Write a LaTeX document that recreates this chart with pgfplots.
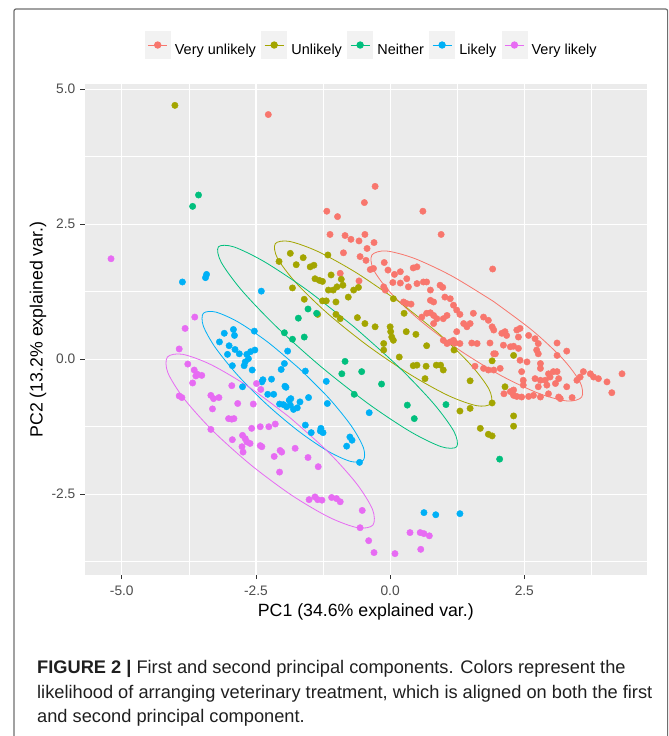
\documentclass[border=0pt]{standalone}
\usepackage{pgfplots}
\pgfplotsset{compat=1.18}
\usepackage{fontspec}
\setmainfont{Liberation Sans}

\definecolor{vunl}{HTML}{F8766D}
\definecolor{unl}{HTML}{A3A500}
\definecolor{neit}{HTML}{00BF7D}
\definecolor{lik}{HTML}{00B0F6}
\definecolor{vlik}{HTML}{E76BF3}
\definecolor{panelbg}{HTML}{EBEBEB}
\definecolor{keybg}{HTML}{F2F2F2}
\definecolor{tickgray}{HTML}{4D4D4D}
\definecolor{framegray}{HTML}{6E6E6E}

\begin{document}
\begin{tikzpicture}
\useasboundingbox (0,0) rectangle (669bp,-736bp);
\draw[framegray, line width=1.2bp, rounded corners=2bp]
  (14bp,-745bp) -- (14bp,-9bp) -- (667.6bp,-9bp) -- (667.6bp,-745bp);

\begin{axis}[
    at={(85bp,-574.7bp)}, anchor=south west,
    width=561.7bp, height=490.4bp, scale only axis,
    xmin=-5.685, xmax=4.78, ymin=-3.99, ymax=5.09,
    axis background/.style={fill=panelbg},
    axis line style={draw=none},
    xtick={-5,-2.5,0,2.5}, xticklabels={-5.0,-2.5,0.0,2.5},
    ytick={-2.5,0,2.5,5}, yticklabels={-2.5,0.0,2.5,5.0},
    minor xtick={-3.75,-1.25,1.25,3.75},
    minor ytick={-3.75,-1.25,1.25,3.75},
    grid=both,
    major grid style={white, line width=1.1bp},
    minor grid style={white, line width=0.55bp},
    tick align=outside, tick pos=left,
    major tick length=4.5bp, minor tick length=0pt,
    tick style={color=black!80, line width=0.8bp},
    xticklabel style={font=\fontsize{13.8}{15}\selectfont, text=tickgray, inner sep=0pt, anchor=base, yshift=-16.3bp},
    yticklabel style={font=\fontsize{13.8}{15}\selectfont, text=tickgray, inner sep=0pt, anchor=east, xshift=-5bp},
    xlabel={PC1 (34.6\% explained var.)},
    ylabel={PC2 (13.2\% explained var.)},
    xlabel style={font=\fontsize{17.8}{20}\selectfont, at={(rel axis cs:0.5,0)}, anchor=center, yshift=-37.5bp},
    ylabel style={font=\fontsize{17.8}{20}\selectfont, at={(rel axis cs:0,0.5)}, anchor=center, yshift=47bp},
    legend columns=5,
    legend cell align=left,
    legend style={at={(rel axis cs:0.1068,1.0801)}, anchor=west, draw=none, fill=none,
      inner sep=0pt, outer sep=0pt,
      font=\fontsize{14.5}{16}\selectfont,
      nodes={inner sep=0pt},
      /tikz/every odd column/.append style={column sep=4.5bp},
      /tikz/every even column/.append style={column sep=5.5bp}},
    legend image code/.code={
      \fill[keybg] (0bp,-8.3bp) rectangle (25bp,18.7bp);
      \draw[#1, sharp plot, line width=0.9bp, mark repeat=2, mark phase=2]
        plot coordinates {(3bp,5.2bp) (12.5bp,5.2bp) (22bp,5.2bp)};
    },
]

% --- Very unlikely ---
\addplot[only marks, mark=*, mark size=3.2bp, color=vunl] coordinates {
(-2.27,4.53) (-1.18,2.74) (-1.12,2.31) (-0.28,3.20) (-0.48,2.90) (-0.98,2.64)
(0.61,2.74) (0.95,2.31) (-0.84,2.29) (-0.73,2.22) (-0.58,2.19) (-0.47,2.31)
(-0.30,2.16) (-0.43,2.05) (-0.87,1.97) (-0.56,1.90) (-0.45,1.83) (1.91,1.67)
(-0.37,1.66) (-0.31,1.68) (-0.93,1.59) (-0.58,1.45) (-0.11,1.79) (-0.04,1.65)
(0.08,1.57) (0.19,1.62) (0.43,1.69) (0.50,1.71) (0.31,1.49) (0.34,1.34)
(0.05,1.42) (0.19,1.41) (0.50,1.40) (0.62,1.43) (0.68,1.43) (-0.12,1.34)
(-0.09,1.28) (0.93,1.37) (0.98,1.33) (0.75,1.28) (1.02,1.15) (1.12,1.12)
(0.25,1.06) (0.31,1.03) (0.39,1.02) (0.75,1.09) (0.81,1.06) (1.18,1.00)
(1.24,0.91) (1.30,0.83) (0.59,0.78) (0.68,0.85) (0.75,0.86) (0.81,0.81)
(0.87,0.75) (0.99,0.75) (1.06,0.81) (0.81,0.66) (1.55,0.85) (1.74,0.78)
(1.83,0.72) (1.90,0.60) (1.93,0.54) (1.37,0.66) (1.43,0.60) (1.49,0.66)
(1.24,0.51) (1.18,0.35) (0.99,0.35) (1.06,0.29) (1.12,0.32) (1.21,0.30)
(1.30,0.29) (1.52,0.30) (1.62,0.29) (1.86,0.30) (2.08,0.48) (2.14,0.51)
(2.17,0.44) (2.36,0.54) (2.42,0.57) (2.39,0.41) (2.11,0.26) (2.24,0.23)
(2.30,0.24) (2.39,0.20) (2.58,0.44) (2.70,0.38) (2.76,0.29) (2.73,0.17)
(2.76,0.10) (3.11,0.30) (3.29,0.15) (3.11,0.07) (1.93,0.10) (1.96,0.10)
(1.58,-0.13) (1.74,-0.17) (1.83,-0.20) (1.93,-0.20) (2.05,-0.17) (2.42,-0.02)
(2.55,-0.05) (2.45,-0.23) (2.48,-0.39) (2.80,-0.08) (2.80,-0.17) (2.70,-0.36)
(2.80,-0.39) (2.89,-0.39) (2.95,-0.27) (3.04,-0.23) (3.11,-0.23) (2.98,-0.33)
(3.08,-0.45) (3.14,-0.36) (2.76,-0.51) (2.92,-0.48) (3.29,-0.51) (3.48,-0.39)
(3.54,-0.33) (3.60,-0.23) (3.73,-0.27) (3.79,-0.33) (3.88,-0.36) (4.04,-0.42)
(4.32,-0.27) (4.13,-0.62) (3.39,-0.71) (3.14,-0.70) (3.17,-0.73) (2.12,-0.64)
(2.24,-0.60) (2.30,-0.67) (2.36,-0.69) (2.45,-0.70) (2.58,-0.69) (2.67,-0.67)
(2.80,-0.70) (2.95,-0.64) (2.30,-0.57) (2.48,-0.48)
};
\addlegendentry{Very unlikely}

% --- Unlikely ---
\addplot[only marks, mark=*, mark size=3.2bp, color=unl] coordinates {
(-4.01,4.70) (-1.86,1.96) (-2.07,1.81) (-1.75,1.75) (-1.82,1.32) (-1.62,1.88)
(-1.49,1.71) (-1.42,1.74) (-1.16,1.93) (-1.40,1.49) (-1.32,1.46) (-1.26,1.44)
(-1.10,1.56) (-0.91,1.48) (-0.88,1.37) (-0.99,1.34) (-1.06,1.28) (-1.15,1.28)
(-0.78,1.15) (-0.68,1.28) (-0.59,1.33) (-1.60,1.11) (-1.26,1.08) (-1.19,1.08)
(-1.01,1.06) (-1.35,0.83) (-1.01,0.83) (-0.93,0.75) (-0.61,0.77) (-0.47,0.66)
(-0.28,0.60) (0.00,0.60) (0.01,0.51) (0.03,0.41) (0.06,0.35) (-0.12,0.29)
(-0.12,0.17) (0.30,0.51) (0.48,0.46) (0.06,1.12) (0.26,0.85) (0.68,0.25)
(0.17,0.04) (0.43,-0.12) (0.50,-0.11) (0.67,-0.13) (0.86,-0.11) (0.94,-0.11)
(0.99,-0.20) (0.65,-0.36) (1.19,0.17) (1.90,-0.03) (2.30,0.07) (1.49,-0.40)
(1.90,-0.81) (1.49,-0.91) (1.30,-0.96) (2.14,-0.51) (2.30,-1.05) (2.30,-1.24)
(1.68,-1.28) (1.83,-1.39) (1.90,-1.42)
};
\addlegendentry{Unlikely}

% --- Neither ---
\addplot[only marks, mark=*, mark size=3.2bp, color=neit] coordinates {
(-3.57,3.04) (-3.68,2.83) (-1.53,0.93) (-1.71,0.76) (-1.97,0.49) (-1.82,0.37)
(-1.60,0.41) (-1.37,0.85) (-0.84,-0.04) (-0.90,-0.27) (-0.67,-0.65) (-0.53,-0.23)
(-0.16,-0.46) (0.32,-0.85) (0.45,-1.10) (1.04,-0.84) (2.04,-1.85)
};
\addlegendentry{Neither}

% --- Likely ---
\addplot[only marks, mark=*, mark size=3.2bp, color=lik] coordinates {
(-3.87,1.43) (-3.42,1.57) (-3.44,1.51) (-2.40,1.26) (-3.09,0.48) (-2.92,0.55)
(-2.90,0.44) (-2.53,0.52) (-3.18,0.32) (-3.00,0.25) (-2.89,0.18) (-2.81,0.10)
(-3.03,0.09) (-2.67,0.09) (-2.60,0.14) (-2.52,0.17) (-2.64,0.01) (-2.70,-0.05)
(-2.72,-0.12) (-2.57,-0.20) (-2.94,-0.12) (-2.39,-0.42) (-2.37,-0.38) (-2.21,-0.37)
(-2.03,-0.19) (-1.97,-0.08) (-1.91,0.15) (-2.75,-0.51) (-2.28,-0.65) (-2.17,-0.65)
(-1.94,-0.52) (-2.06,-0.83) (-1.99,-0.84) (-1.93,-0.88) (-1.86,-0.85) (-1.80,-0.93)
(-1.73,-0.90) (-1.88,-0.76) (-1.85,-0.73) (-1.68,-0.79) (-1.58,-0.22) (-1.52,-0.71)
(-1.19,-0.41) (-1.17,-0.82) (-1.58,-1.22) (-1.47,-1.36) (-1.30,-1.33) (-1.25,-1.36)
(-0.75,-1.44) (-0.71,-1.50) (-0.81,-1.61) (-0.57,-1.91) (-0.39,-0.99) (-1.29,-1.28)
(-1.96,-0.50) (0.63,-2.84) (0.85,-2.88) (1.30,-2.86)
};
\addlegendentry{Likely}

% --- Very likely ---
\addplot[only marks, mark=*, mark size=3.2bp, color=vlik] coordinates {
(-5.20,1.86) (-3.64,0.78) (-3.82,0.57) (-3.93,0.19) (-3.77,-0.09) (-3.65,-0.20)
(-3.59,-0.28) (-3.51,-0.30) (-3.62,-0.31) (-3.68,-0.44) (-3.93,-0.68) (-3.88,-0.71)
(-3.34,-0.67) (-3.29,-0.73) (-3.19,-0.71) (-3.31,-0.92) (-2.95,-0.49) (-2.84,-0.82)
(-2.55,-0.83) (-3.01,-1.10) (-2.95,-1.11) (-2.91,-1.10) (-3.34,-1.30) (-2.94,-1.49)
(-2.75,-1.41) (-2.70,-1.47) (-2.67,-1.53) (-2.61,-1.56) (-2.76,-1.62) (-2.74,-1.72)
(-2.58,-1.28) (-2.42,-1.25) (-2.39,-1.62) (-2.42,-1.60) (-2.26,-1.25) (-2.14,-1.20)
(-2.49,-0.45) (-2.41,-0.56) (-2.16,-1.80) (-2.05,-1.69) (-2.02,-1.72) (-2.06,-2.09)
(-1.77,-1.65) (-1.53,-1.82) (-1.34,-1.99) (-1.51,-2.60) (-1.40,-2.55) (-1.35,-2.60)
(-1.27,-2.61) (-1.09,-2.56) (-1.00,-2.58) (-0.93,-2.64) (-0.52,-2.80) (-0.56,-3.12)
(-0.40,-3.36) (-0.30,-3.58) (0.09,-3.60) (0.37,-3.21) (0.56,-3.21) (0.63,-3.23)
(0.73,-3.27) (0.57,-3.52)
};
\addlegendentry{Very likely}

% --- 68% ellipses ---
\addplot[vunl, line width=0.8bp, smooth, forget plot] coordinates {
(1.922,1.072) (1.151,1.540) (0.450,1.867) (-0.074,2.004) (-0.340,1.929) (-0.308,1.654)
(0.016,1.221) (0.583,0.696) (1.308,0.158) (2.079,-0.310) (2.780,-0.637) (3.304,-0.774)
(3.570,-0.699) (3.538,-0.424) (3.214,0.009) (2.647,0.534) (1.922,1.072)
};
\addplot[unl, line width=0.8bp, smooth, forget plot] coordinates {
(0.167,1.063) (-0.625,1.598) (-1.341,1.992) (-1.874,2.181) (-2.140,2.140) (-2.101,1.873)
(-1.761,1.422) (-1.173,0.854) (-0.427,0.257) (0.365,-0.278) (1.081,-0.672) (1.614,-0.861)
(1.880,-0.820) (1.841,-0.553) (1.501,-0.102) (0.913,0.466) (0.167,1.063)
};
\addplot[neit, line width=0.8bp, smooth, forget plot] coordinates {
(-0.673,0.599) (-1.546,1.279) (-2.333,1.799) (-2.913,2.080) (-3.200,2.080) (-3.149,1.798)
(-2.767,1.277) (-2.114,0.597) (-1.287,-0.139) (-0.414,-0.819) (0.373,-1.339) (0.953,-1.620)
(1.240,-1.620) (1.189,-1.338) (0.807,-0.818) (0.154,-0.138) (-0.673,0.599)
};
\addplot[lik, line width=0.8bp, smooth, forget plot] coordinates {
(-1.687,-0.178) (-2.280,0.317) (-2.829,0.687) (-3.250,0.873) (-3.480,0.850) (-3.482,0.619)
(-3.258,0.217) (-2.840,-0.297) (-2.293,-0.842) (-1.700,-1.337) (-1.151,-1.707) (-0.730,-1.894)
(-0.500,-1.870) (-0.498,-1.639) (-0.722,-1.237) (-1.140,-0.723) (-1.687,-0.178)
};
\addplot[vlik, line width=0.8bp, smooth, forget plot] coordinates {
(-1.876,-1.073) (-2.636,-0.511) (-3.335,-0.102) (-3.867,0.091) (-4.150,0.040) (-4.142,-0.248)
(-3.843,-0.728) (-3.300,-1.329) (-2.594,-1.958) (-1.834,-2.519) (-1.135,-2.927) (-0.603,-3.121)
(-0.320,-3.070) (-0.328,-2.782) (-0.627,-2.302) (-1.170,-1.701) (-1.876,-1.073)
};
\end{axis}

\begin{scope}[every node/.style={anchor=base west, inner sep=0pt, text=black!88, font=\fontsize{18.3}{20}\selectfont}]
\node at (37bp,-673bp) {\textbf{FIGURE 2 |} First and second principal components. Colors represent the};
\node at (37bp,-698bp) {likelihood of arranging veterinary treatment, which is aligned on both the first};
\node at (37bp,-722bp) {and second principal component.};
\end{scope}
\end{tikzpicture}
\end{document}
